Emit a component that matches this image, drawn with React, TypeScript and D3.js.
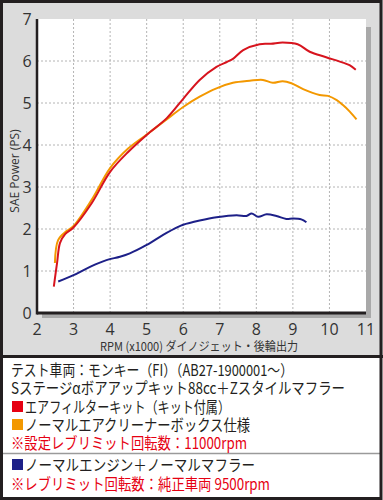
import React from "react";
import * as d3 from "d3";

const xTicks = [2, 3, 4, 5, 6, 7, 8, 9, 10, 11];
const yTicks = [0, 1, 2, 3, 4, 5, 6, 7];

const redSeries: [number, number][] = [
  [2.46, 0.63], [2.55, 1.2], [2.63, 1.67], [2.77, 1.88], [2.99, 2.03], [3.5, 2.62],
  [4.0, 3.36], [4.5, 3.84], [5.0, 4.24], [5.55, 4.64], [6.0, 5.1], [6.45, 5.55],
  [6.91, 5.86], [7.2, 5.98], [7.36, 6.05], [7.64, 6.26], [8.09, 6.4], [8.4, 6.41],
  [8.72, 6.44], [9.13, 6.4], [9.46, 6.22], [9.91, 6.09], [10.37, 5.96], [10.55, 5.9],
  [10.72, 5.79],
];
const orangeSeries: [number, number][] = [
  [2.49, 1.19], [2.58, 1.74], [2.81, 1.95], [3.0, 2.07], [3.5, 2.7], [4.0, 3.45],
  [4.5, 3.92], [5.0, 4.25], [5.5, 4.58], [5.99, 4.9], [6.45, 5.15], [6.91, 5.35],
  [7.36, 5.48], [7.82, 5.53], [8.18, 5.55], [8.45, 5.48], [8.72, 5.52], [8.96, 5.47],
  [9.28, 5.33], [9.73, 5.19], [9.96, 5.17], [10.2, 5.07], [10.37, 4.95], [10.55, 4.8],
  [10.74, 4.61],
];
const navySeries: [number, number][] = [
  [2.58, 0.75], [3.0, 0.9], [3.45, 1.1], [3.9, 1.26], [4.27, 1.34], [4.54, 1.42],
  [5.0, 1.62], [5.45, 1.86], [5.86, 2.05], [6.0, 2.1], [6.45, 2.2], [6.91, 2.28],
  [7.46, 2.33], [7.73, 2.31], [7.87, 2.37], [8.05, 2.29], [8.28, 2.35], [8.55, 2.31],
  [8.82, 2.24], [9.0, 2.25], [9.23, 2.23], [9.37, 2.16],
];

const yTitle = "SAE Power (PS)";
const xTitle = "RPM (x1000) ダイノジェット・後輪出力";

const legendLines = [
  { text: "テスト車両：モンキー（FI）（AB27-1900001～）", color: "#231f20", swatch: null, y: 370, x1: 293 },
  { text: "Sステージαボアアップキット88cc＋Zスタイルマフラー", color: "#231f20", swatch: null, y: 388, x1: 345 },
  { text: "エアフィルターキット（キット付属）", color: "#231f20", swatch: "#e60012", y: 407, x1: 230 },
  { text: "ノーマルエアクリーナーボックス仕様", color: "#231f20", swatch: "#f39800", y: 425, x1: 250 },
  { text: "※設定レブリミット回転数：11000rpm", color: "#e60012", swatch: null, y: 443, x1: 247 },
  { text: "ノーマルエンジン＋ノーマルマフラー", color: "#231f20", swatch: "#1d2088", y: 465, x1: 255 },
  { text: "※レブリミット回転数：純正車両 9500rpm", color: "#e60012", swatch: null, y: 484, x1: 270 },
];

export default function App() {
  const W = 383, H = 500;
  const x = d3.scaleLinear().domain([2, 11]).range([37, 366]);
  const y = d3.scaleLinear().domain([0, 7]).range([313, 19]);
  const line = d3
    .line<[number, number]>()
    .x((d) => x(d[0]))
    .y((d) => y(d[1]))
    .curve(d3.curveCatmullRom.alpha(0.5));

  const fontTick = "'Open Sans', 'Noto Sans', sans-serif";
  const fontJP = "'Noto Sans CJK JP', sans-serif";

  return (
    <svg width={W} height={H} style={{ position: "absolute", left: 0, top: 0 }}>
      {/* backgrounds */}
      <rect x={0} y={0} width={W} height={356} fill="#dcdcdc" />
      <rect x={0} y={356} width={W} height={H - 356} fill="#ffffff" />
      {/* plot shadow */}
      <rect x={x(2) + 5} y={y(7) + 8} width={x(11) - x(2)} height={y(0) - y(7) - 3} fill="#a9a9a9" />
      {/* plot area */}
      <rect x={x(2)} y={y(7)} width={x(11) - x(2)} height={y(0) - y(7)} fill="#ffffff" />
      {/* grid */}
      {xTicks.slice(1, -1).map((t) => (
        <line key={"gx" + t} x1={x(t)} x2={x(t)} y1={y(7)} y2={y(0)} stroke="#b4b4b4" strokeWidth={1} strokeDasharray="2,2" />
      ))}
      {yTicks.slice(1, -1).map((t) => (
        <line key={"gy" + t} x1={x(2)} x2={x(11)} y1={y(t)} y2={y(t)} stroke="#b4b4b4" strokeWidth={1} strokeDasharray="2,2" />
      ))}
      {/* axes */}
      <line x1={x(2)} x2={x(2)} y1={y(7)} y2={y(0) + 1.5} stroke="#231f20" strokeWidth={2.5} />
      <line x1={x(2)} x2={x(11)} y1={y(0)} y2={y(0)} stroke="#231f20" strokeWidth={3} />
      {/* series */}
      <path d={line(navySeries) || ""} fill="none" stroke="#1d2088" strokeWidth={2} />
      <path d={line(orangeSeries) || ""} fill="none" stroke="#f39800" strokeWidth={2} />
      <path d={line(redSeries) || ""} fill="none" stroke="#d7141e" strokeWidth={2} />
      {/* tick labels */}
      {yTicks.map((t) => (
        <text key={"ty" + t} x={27} y={y(t) + 6} textAnchor="middle" fontFamily={fontTick} fontSize={16} fill="#333">
          {t}
        </text>
      ))}
      {xTicks.map((t) => (
        <text key={"tx" + t} x={x(t)} y={335} textAnchor="middle" fontFamily={fontTick} fontSize={16} fill="#333">
          {t}
        </text>
      ))}
      <text
        transform={`translate(15,171) rotate(-90)`}
        textAnchor="middle"
        fontFamily={fontTick}
        fontSize={12}
        fill="#333"
        dy="0.35em"
      >
        {yTitle}
      </text>
      <text x={199} y={351} textAnchor="middle" fontFamily={fontJP} fontSize={12} fill="#333" textLength={198} lengthAdjust="spacingAndGlyphs">
        {xTitle}
      </text>
      {/* separators */}
      <line x1={0} x2={W} y1={356.5} y2={356.5} stroke="#231f20" strokeWidth={3} />
      <line x1={3} x2={380} y1={453.5} y2={453.5} stroke="#9a9a9a" strokeWidth={1.5} />
      {/* legend */}
      {legendLines.map((l, i) => {
        const tx = l.swatch ? 25 : 11;
        return (
          <g key={"lg" + i}>
            {l.swatch && <rect x={12} y={l.y - 6} width={11} height={11} fill={l.swatch} />}
            <text
              x={tx}
              y={l.y + 5.5}
              fontFamily={fontJP}
              fontSize={15.5}
              fill={l.color}
              textLength={l.x1 - tx}
              lengthAdjust="spacingAndGlyphs"
            >
              {l.text}
            </text>
          </g>
        );
      })}
      {/* outer border */}
      <rect x={1.5} y={1.5} width={379.5} height={497} fill="none" stroke="#231f20" strokeWidth={3} />
    </svg>
  );
}
